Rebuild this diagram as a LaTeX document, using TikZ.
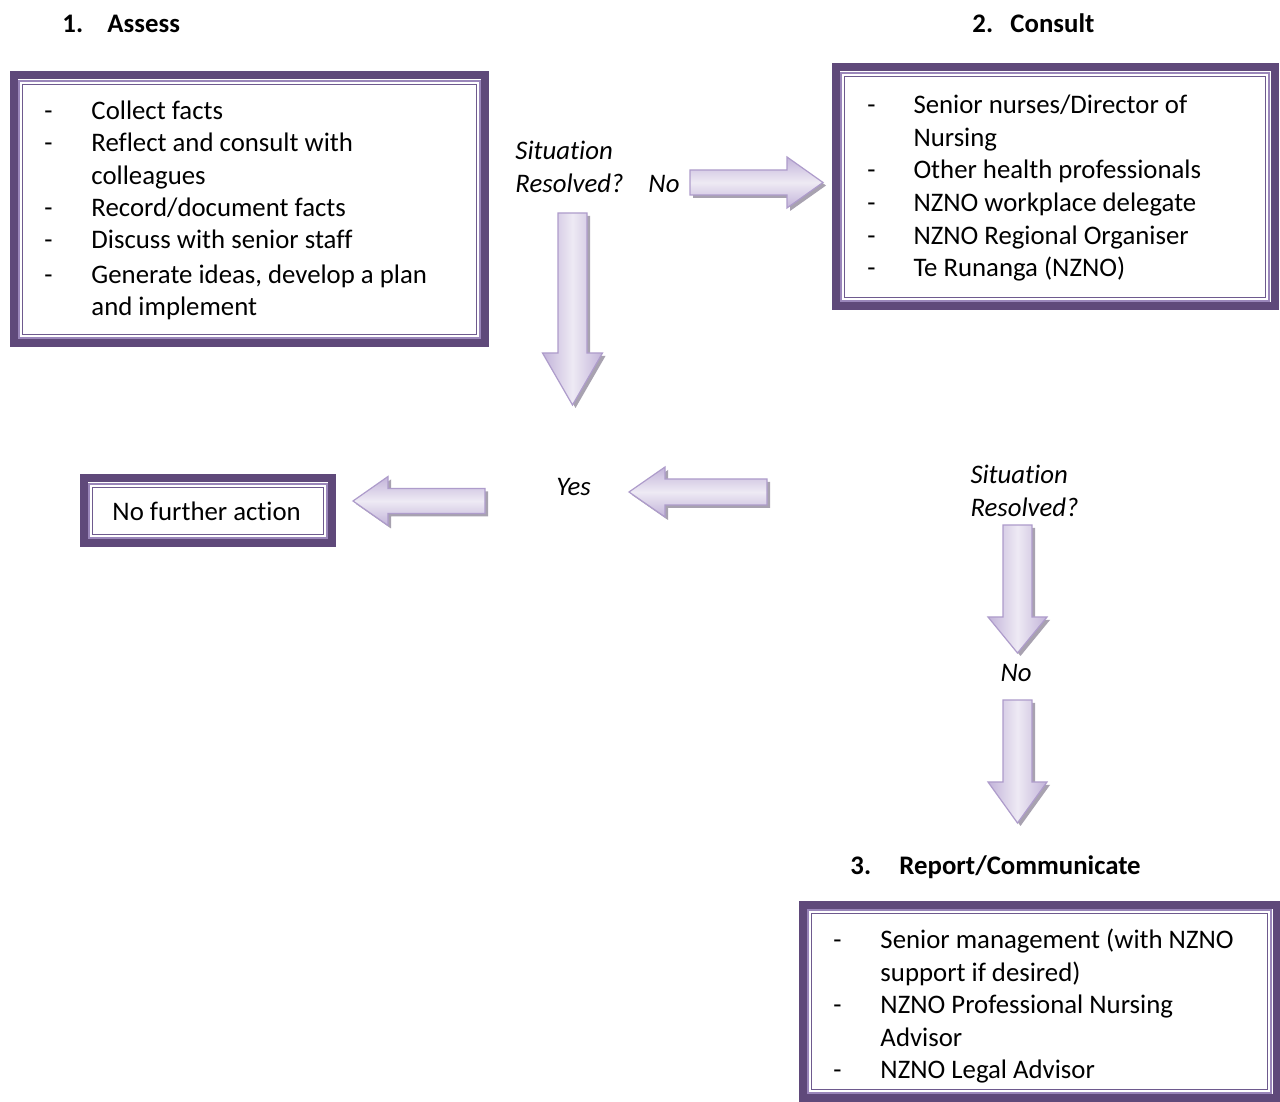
\documentclass[tikz,border=0pt]{standalone}
\usepackage{fontspec}
\setmainfont{Carlito}[Ligatures={NoCommon}]
\definecolor{band}{HTML}{5F497A}
\definecolor{thinA}{HTML}{9A86BA}
\definecolor{thinB}{HTML}{6E5A8E}
\definecolor{aedge}{HTML}{AE9CCB}
\definecolor{aout}{HTML}{C2B3D9}
\definecolor{ain}{HTML}{EEEAF4}
\definecolor{ashadow}{HTML}{A8A2B0}
\def\pxu{0.40625pt}
\tikzset{
  txt/.style={anchor=base west, inner sep=0pt, font=\fontsize{10.88pt}{13.4pt}\selectfont},
  itxt/.style={txt, font=\fontsize{10.88pt}{13.4pt}\selectfont\itshape},
  htxt/.style={txt, font=\fontsize{10.88pt}{13.4pt}\selectfont\bfseries},
  bandline/.style={draw=band, line width=8*\pxu},
  thinlineA/.style={draw=thinA, line width=1.6*\pxu},
  thinlineB/.style={draw=thinB, line width=1.6*\pxu},
  hshade/.style={draw=aedge, line width=1.2*\pxu, top color=aout, bottom color=aout, middle color=ain},
  vshade/.style={draw=aedge, line width=1.2*\pxu, left color=aout, right color=aout, middle color=ain},
  shadowfill/.style={fill=ashadow},
}
% #1 name, #2 x1, #3 y1, #4 x2, #5 y2
\newcommand\nzbox[5]{%
  \node[inner sep=0pt, minimum width={(#4-#2)*\pxu}, minimum height={(#5-#3)*\pxu}] (#1) at ({(#2+#4)/2},{(#3+#5)/2}) {};
  \draw[bandline] ([shift={(4,4)}]#1.north west) rectangle ([shift={(-4,-4)}]#1.south east);
  \draw[thinlineA] ([shift={(9.7,9.7)}]#1.north west) rectangle ([shift={(-9.7,-9.7)}]#1.south east);
  \draw[thinlineB] ([shift={(13,13)}]#1.north west) rectangle ([shift={(-13,-13)}]#1.south east);
}
% horizontal block arrow: #1 tip x, #2 centre y, #3 head back x, #4 tail x, #5 shaft half, #6 head half
\newcommand\harr[6]{%
  \fill[shadowfill, shift={(3,3)}] (#4,{#2-#5}) -- (#3,{#2-#5}) -- (#3,{#2-#6}) -- (#1,#2) -- (#3,{#2+#6}) -- (#3,{#2+#5}) -- (#4,{#2+#5}) -- cycle;
  \draw[hshade] (#4,{#2-#5}) -- (#3,{#2-#5}) -- (#3,{#2-#6}) -- (#1,#2) -- (#3,{#2+#6}) -- (#3,{#2+#5}) -- (#4,{#2+#5}) -- cycle;
}
% vertical block arrow: #1 centre x, #2 tip y, #3 head back y, #4 tail y, #5 shaft half, #6 head half
\newcommand\varr[6]{%
  \fill[shadowfill, shift={(3,3)}] ({#1-#5},#4) -- ({#1-#5},#3) -- ({#1-#6},#3) -- (#1,#2) -- ({#1+#6},#3) -- ({#1+#5},#3) -- ({#1+#5},#4) -- cycle;
  \draw[vshade] ({#1-#5},#4) -- ({#1-#5},#3) -- ({#1-#6},#3) -- (#1,#2) -- ({#1+#6},#3) -- ({#1+#5},#3) -- ({#1+#5},#4) -- cycle;
}
\begin{document}
\begin{tikzpicture}[x=0.40625pt, y=-0.40625pt]
\fill[white] (0,0) rectangle (1280,1102);
\useasboundingbox (0,0) rectangle (1280,1102);

% headings
\node[htxt] (h1n) at (62,32.5) {1.};
\node[htxt] (h1) at (107,32.5) {Assess};
\node[htxt] (h2n) at (972,32.5) {2.};
\node[htxt] (h2) at (1010,32.5) {Consult};
\node[htxt] (h3n) at (850,874.5) {3.};
\node[htxt] (h3) at (899,874.5) {Report/Communicate};

% box 1
\nzbox{assess}{10}{72}{489}{347}
\node[txt] (a1d) at (44,120) {-};
\node[txt] (a1) at (91,120) {Collect facts};
\node[txt] (a2d) at (44,152) {-};
\node[txt] (a2) at (91,152) {Reflect and consult with};
\node[txt] (a2b) at (91,184.5) {colleagues};
\node[txt] (a3d) at (44,217) {-};
\node[txt] (a3) at (91,217) {Record/document facts};
\node[txt] (a4d) at (44,249) {-};
\node[txt] (a4) at (91,249) {Discuss with senior staff};
\node[txt] (a5d) at (44,283.5) {-};
\node[txt] (a5) at (91,283.5) {Generate ideas, develop a plan};
\node[txt] (a5b) at (91,316) {and implement};

% box 2
\nzbox{consult}{832}{64}{1278}{310}
\node[txt] (c1d) at (867,114) {-};
\node[txt] (c1) at (913,114) {Senior nurses/Director of};
\node[txt] (c1b) at (913,146.5) {Nursing};
\node[txt] (c2d) at (867,179) {-};
\node[txt] (c2) at (913,179) {Other health professionals};
\node[txt] (c3d) at (867,212) {-};
\node[txt] (c3) at (913,212) {NZNO workplace delegate};
\node[txt] (c4d) at (867,244.5) {-};
\node[txt] (c4) at (913,244.5) {NZNO Regional Organiser};
\node[txt] (c5d) at (867,277) {-};
\node[txt] (c5) at (913,277) {Te Runanga (NZNO)};

% no further action
\nzbox{nfa}{80}{475}{336}{547}
\node[txt] (nfat) at (112,520.5) {No further action};

% box 3
\nzbox{report}{799}{901}{1280}{1102}
\node[txt] (r1d) at (833,949) {-};
\node[txt] (r1) at (880,949) {Senior management (with NZNO};
\node[txt] (r1b) at (880,981.5) {support if desired)};
\node[txt] (r2d) at (833,1014) {-};
\node[txt] (r2) at (880,1014) {NZNO Professional Nursing};
\node[txt] (r2b) at (880,1046.5) {Advisor};
\node[txt] (r3d) at (833,1078.5) {-};
\node[txt] (r3) at (880,1078.5) {NZNO Legal Advisor};

% decision labels
\node[itxt] (s1a) at (515,159.5) {Situation};
\node[itxt] (s1b) at (515,192.5) {Resolved?};
\node[itxt] (no1) at (648,192.5) {No};
\node[itxt] (yes) at (556,495.5) {Yes};
\node[itxt] (s2a) at (970,483.5) {Situation};
\node[itxt] (s2b) at (970,516.5) {Resolved?};
\node[itxt] (no2) at (1000,681.5) {No};

% block arrows
\harr{823}{182.5}{787}{690}{12.5}{25.5}
\varr{572.5}{405}{353}{213}{14.5}{30}
\harr{353}{501}{388}{485}{12.5}{24.5}
\harr{629}{492}{665}{767}{13}{25}
\varr{1017.5}{653}{617}{525}{14.5}{29.5}
\varr{1017.5}{823}{782}{700}{14.5}{29.5}
\end{tikzpicture}
\end{document}
